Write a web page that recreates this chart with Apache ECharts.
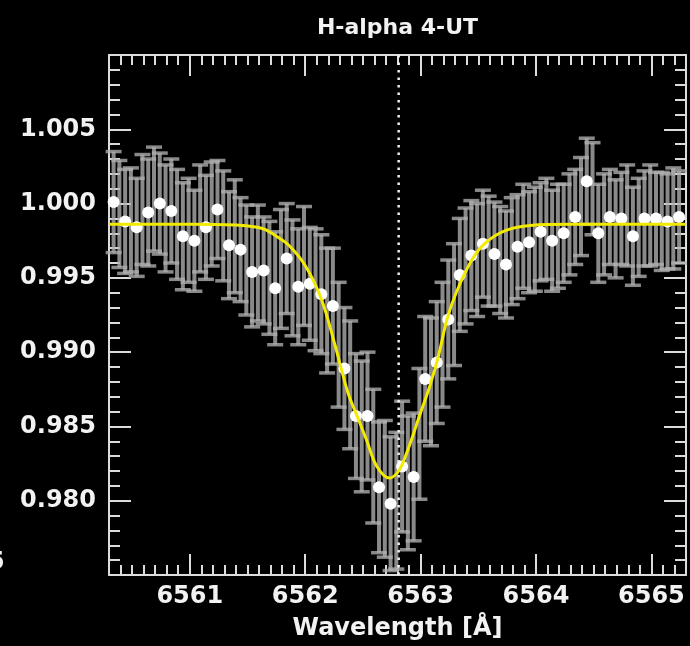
<!DOCTYPE html>
<html>
<head>
<meta charset="utf-8">
<script src="https://cdn.jsdelivr.net/npm/echarts@6/dist/echarts.min.js"></script>
<style>
html,body{margin:0;padding:0;background:#000;}
#chart{width:690px;height:646px;}
</style>
</head>
<body>
<div id="chart"></div>
<script>
// ---- data ----
const titleText = 'H-alpha 4-UT';
const xName = 'Wavelength [Å]';
const xMajorTicks = [6561, 6562, 6563, 6564, 6565];
const yTickStep = 0.005;

// binned points (white dots)
const dotX = [6560.34,6560.44,6560.54,6560.64,6560.74,6560.84,6560.94,6561.04,6561.14,6561.24,
              6561.34,6561.44,6561.54,6561.64,6561.74,6561.84,6561.94,6562.04,6562.14,6562.24,
              6562.34,6562.44,6562.54,6562.64,6562.74,6562.84,6562.94,6563.04,6563.14,6563.24,
              6563.34,6563.44,6563.54,6563.64,6563.74,6563.84,6563.94,6564.04,6564.14,6564.24,
              6564.34,6564.44,6564.54,6564.64,6564.74,6564.84,6564.94,6565.04,6565.14,6565.24];
const dotY = [1.0001,0.9988,0.9984,0.9994,1.0000,0.9995,0.9978,0.9975,0.9984,0.9996,
              0.9972,0.9969,0.9954,0.9955,0.9943,0.9963,0.9944,0.9946,0.9939,0.9931,
              0.9889,0.9857,0.9857,0.9809,0.9798,0.9823,0.9816,0.9882,0.9893,0.9922,
              0.9952,0.9965,0.9973,0.9966,0.9959,0.9971,0.9974,0.9981,0.9975,0.9980,
              0.9991,1.0015,0.9980,0.9991,0.9990,0.9978,0.9990,0.9990,0.9988,0.9991];
const dotErr = [0.0034,0.0035,0.0033,0.0036,0.0034,0.0035,0.0036,0.0034,0.0035,0.0033,
                0.0036,0.0035,0.0037,0.0036,0.0038,0.0037,0.0039,0.0038,0.0040,0.0039,
                0.0041,0.0042,0.0043,0.0044,0.0045,0.0044,0.0043,0.0042,0.0041,0.0040,
                0.0038,0.0037,0.0036,0.0035,0.0036,0.0035,0.0034,0.0033,0.0034,0.0033,
                0.0032,0.0029,0.0033,0.0032,0.0031,0.0033,0.0032,0.0031,0.0032,0.0031];

// additional measurements (error bars only, their dots hidden behind the bars)
const extraX = [6560.39,6560.49,6560.59,6560.69,6560.79,6560.89,6560.99,6561.09,6561.19,6561.29,
                6561.39,6561.49,6561.59,6561.69,6561.79,6561.89,6561.99,6562.09,6562.19,6562.29,
                6562.39,6562.49,6562.59,6562.69,6562.79,6562.89,6562.99,6563.09,6563.19,6563.29,
                6563.39,6563.49,6563.59,6563.69,6563.79,6563.89,6563.99,6564.09,6564.19,6564.29,
                6564.39,6564.49,6564.59,6564.69,6564.79,6564.89,6564.99,6565.09,6565.19];
const extraY = [0.9993,0.9989,0.9996,1.0003,0.9990,0.9986,0.9982,0.9990,0.9993,0.9985,
                0.9978,0.9962,0.9960,0.9950,0.9956,0.9950,0.9958,0.9942,0.9928,0.9905,
                0.9878,0.9850,0.9830,0.9808,0.9800,0.9812,0.9845,0.9880,0.9905,0.9932,
                0.9958,0.9962,0.9968,0.9962,0.9968,0.9978,0.9976,0.9983,0.9978,0.9986,
                0.9998,1.0010,0.9986,0.9983,0.9992,0.9984,0.9992,0.9988,0.9990];
const extraErr = [0.0036,0.0035,0.0037,0.0035,0.0036,0.0037,0.0035,0.0036,0.0035,0.0037,
                  0.0038,0.0037,0.0039,0.0038,0.0040,0.0039,0.0040,0.0041,0.0042,0.0042,
                  0.0043,0.0044,0.0045,0.0046,0.0046,0.0045,0.0044,0.0043,0.0042,0.0041,
                  0.0039,0.0038,0.0037,0.0036,0.0036,0.0035,0.0035,0.0034,0.0035,0.0034,
                  0.0033,0.0031,0.0034,0.0033,0.0034,0.0033,0.0034,0.0033,0.0034];

// fitted profile (yellow curve)
const fitX = [6560.30,6561.00,6561.40,6561.57,6561.65,6561.75,6561.86,6562.00,6562.14,6562.26,
              6562.37,6562.45,6562.53,6562.62,6562.73,6562.81,6562.88,6562.99,6563.08,6563.15,
              6563.23,6563.31,6563.45,6563.57,6563.74,6563.95,6564.30,6565.30];
const fitY = [0.9986,0.9986,0.99855,0.99843,0.99826,0.9978,0.99718,0.99583,0.99358,0.99043,
              0.98728,0.9857,0.98412,0.98232,0.98153,0.98200,0.98322,0.98570,0.98772,0.98960,
              0.99223,0.99403,0.99628,0.99741,0.99820,0.99853,0.9986,0.9986];

const restWavelength = 6562.81;
const xMin = 6560.3, xMax = 6565.3;
const yMin = 0.975, yMax = 1.010;

// ---- build ----
const xMinorTicks = [];
for (let k = Math.round(xMin*10)+1; k < Math.round(xMax*10); k++) {
  if (k % 10 !== 0) xMinorTicks.push(k/10);
}
const pair = (xs, ys, es) => xs.map((x,i) => es ? [x, ys[i], es[i]] : [x, ys[i]]);

const frameColor = '#dcdcdc';
const barFill = 'rgba(175,175,175,0.78)';
const labelFont = {color:'#f2f2f2', fontSize:24, fontWeight:'bold', fontFamily:'DejaVu Sans'};

function errRender(params, api) {
  const x = api.value(0), y = api.value(1), e = api.value(2);
  const t = api.coord([x, y + e]);
  const b = api.coord([x, y - e]);
  const cs = params.coordSys;
  const yTop = cs.y, yBot = cs.y + cs.height;
  const hw = 8, lw = 4, ch_h = 3.5;
  const style = {fill: barFill};
  const ch = [];
  const y1 = Math.max(t[1], yTop), y2 = Math.min(b[1], yBot);
  ch.push({type:'rect', shape:{x:t[0]-lw/2, y:y1, width:lw, height:y2-y1}, style});
  if (t[1] >= yTop) ch.push({type:'rect', shape:{x:t[0]-hw, y:t[1]-ch_h/2, width:2*hw, height:ch_h}, style});
  if (b[1] <= yBot) ch.push({type:'rect', shape:{x:b[0]-hw, y:b[1]-ch_h/2, width:2*hw, height:ch_h}, style});
  return {type:'group', children: ch};
}

const grid = {left:109, right:4, top:55, bottom:71};

function xAx(pos, major, withLabel) {
  return {
    type:'value', position:pos, min:xMin, max:xMax,
    axisLine:{show:major, onZero:false, lineStyle:{color:frameColor, width:2}},
    axisTick:{show:true, inside:true, length: major ? 21 : 10, customValues: major ? xMajorTicks : xMinorTicks,
              lineStyle:{color:frameColor, width:2}},
    axisLabel: withLabel ? Object.assign({show:true, margin:10, customValues:xMajorTicks,
              formatter: v => String(Math.round(v))}, labelFont) : {show:false},
    splitLine:{show:false},
    name: withLabel ? xName : '', nameLocation:'middle', nameGap:42,
    nameTextStyle: labelFont
  };
}
function yAx(pos, withLabel) {
  return {
    type:'value', position:pos, min:yMin, max:yMax, interval:yTickStep,
    axisLine:{show:true, onZero:false, lineStyle:{color:frameColor, width:2}},
    axisTick:{show:true, inside:true, length:22, lineStyle:{color:frameColor, width:2}},
    minorTick:{show:true, splitNumber:5, length:11, lineStyle:{color:frameColor, width:2}},
    axisLabel: withLabel ? Object.assign({show:true, margin:13, showMinLabel:false, showMaxLabel:false,
              formatter: v => v.toFixed(3)}, labelFont) : {show:false},
    splitLine:{show:false}, minorSplitLine:{show:false}
  };
}

const chart = echarts.init(document.getElementById('chart'), null, {renderer:'canvas'});
chart.setOption({
  backgroundColor:'#000',
  animation:false,
  grid: grid,
  xAxis:[xAx('bottom', true, true), xAx('bottom', false, false), xAx('top', true, false), xAx('top', false, false)],
  yAxis:[yAx('left', true), yAx('right', false)],
  graphic:[
    {type:'text', x:397.5, y:28, style:{text:titleText, align:'center', verticalAlign:'middle',
      fill:'#f2f2f2', font:'bold 22px "DejaVu Sans"'}},
    {type:'text', x:-12, y:563, style:{text:'5', align:'left', verticalAlign:'middle',
      fill:'#f2f2f2', font:'bold 24px "DejaVu Sans"'}}
  ],
  series:[
    {type:'custom', renderItem:errRender, data:pair(extraX, extraY, extraErr), z:1, silent:true,
     encode:{x:0, y:1}},
    {type:'custom', renderItem:errRender, data:pair(dotX, dotY, dotErr), z:2, silent:true,
     encode:{x:0, y:1}},
    {type:'line', data:[[restWavelength, yMin],[restWavelength, yMax]], symbol:'none', z:3,
     lineStyle:{color:'#f0f0f0', width:2.5, type:[2.5,5]}, silent:true},
    {type:'scatter', data:pair(dotX, dotY), symbol:'circle', symbolSize:12, z:4,
     itemStyle:{color:'#ffffff', opacity:1}, silent:true},
    {type:'line', data:pair(fitX, fitY), smooth:0.35, symbol:'none', z:5,
     lineStyle:{color:'#f2ea00', width:3}, silent:true}
  ]
});
</script>
</body>
</html>
